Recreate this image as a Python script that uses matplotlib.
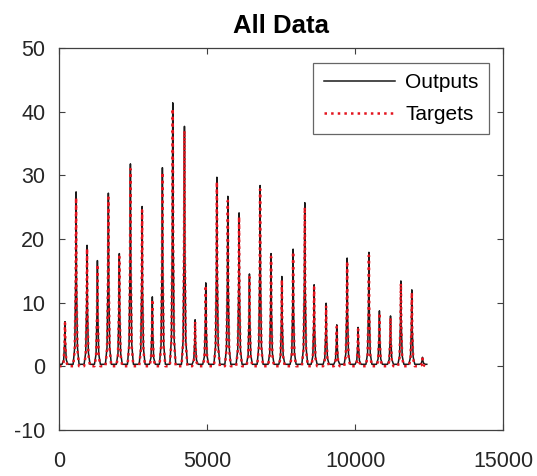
import numpy as np
import matplotlib
matplotlib.use("Agg")
import matplotlib.pyplot as plt

plt.rcParams["font.family"] = ["Liberation Sans", "DejaVu Sans"]
plt.rcParams["axes.unicode_minus"] = False

# peak positions (sample index) and peak heights
peak_x = [200, 575, 945, 1295, 1665, 2035, 2410, 2805, 3150, 3490, 3840, 4235,
          4595, 4955, 5330, 5700, 6080, 6430, 6790, 7160, 7525, 7905, 8300, 8615,
          9020, 9380, 9730, 10100, 10465, 10820, 11195, 11545, 11915, 12275]
out_peak = [7.0, 27.4, 19.0, 16.6, 27.2, 17.7, 31.8, 25.1, 10.9, 31.2, 41.4, 37.7,
            7.3, 13.1, 29.7, 26.7, 24.1, 14.5, 28.4, 17.7, 14.1, 18.4, 25.7, 12.8,
            9.9, 6.5, 17.0, 6.1, 17.9, 8.7, 7.9, 13.4, 12.0, 1.4]
tgt_peak = [6.8, 26.5, 18.5, 16.0, 26.5, 17.2, 31.0, 24.5, 10.5, 30.5, 40.5, 37.0,
            7.0, 12.7, 29.0, 26.0, 23.5, 14.0, 27.8, 17.2, 13.6, 18.0, 25.0, 12.4,
            9.5, 6.2, 16.5, 5.8, 17.4, 8.4, 7.6, 13.0, 11.6, 1.2]
x_end = 12420
base_out = 0.3
base_tgt = 0.0

# spike outline (offsets in samples, fraction of peak height)
shape_dx = [-100, -45, -14, 0, 14, 45, 100]
shape_fy = [0.0, 0.10, 0.50, 1.0, 0.48, 0.10, 0.0]


def build(peaks, base):
    xs, ys = [0], [base]
    for p, h in zip(peak_x, peaks):
        for dx, fy in zip(shape_dx, shape_fy):
            xs.append(p + dx)
            ys.append(base + fy * (h - base))
    xs.append(x_end)
    ys.append(base)
    return np.array(xs), np.array(ys)


xo, yo = build(out_peak, base_out)
xt, yt = build(tgt_peak, base_tgt)

fig = plt.figure(figsize=(5.37, 4.76), dpi=100)
ax = fig.add_axes([0.110, 0.097, 0.827, 0.802])

ax.plot(xo, yo, color="#1a1a1a", lw=1.1, label="Outputs")
ax.plot(xt, yt, color="#e3141e", lw=1.8, ls=":", label="Targets")

ax.set_xlim(0, 15000)
ax.set_ylim(-10, 50)
ax.set_xticks([0, 5000, 10000, 15000])
ax.set_yticks([-10, 0, 10, 20, 30, 40, 50])
ax.tick_params(direction="in", length=4, width=0.8, colors="#404040",
               labelsize=15.5, top=True, right=True, pad=10)
ax.tick_params(axis="x", pad=15)
for lab in ax.get_xticklabels() + ax.get_yticklabels():
    lab.set_color("#262626")
for s in ax.spines.values():
    s.set_color("#404040")
    s.set_linewidth(0.9)

ax.set_title("All Data", fontsize=18.5, fontweight="bold", pad=11)

leg = ax.legend(loc="upper right", fontsize=15, handlelength=3.4,
                frameon=True, fancybox=False, borderpad=0.5,
                labelspacing=0.6, handletextpad=0.5, borderaxespad=0,
                bbox_to_anchor=(0.968, 0.961))
leg.get_frame().set_edgecolor("#404040")
leg.get_frame().set_linewidth(0.9)

fig.savefig("out.png", dpi=100)
